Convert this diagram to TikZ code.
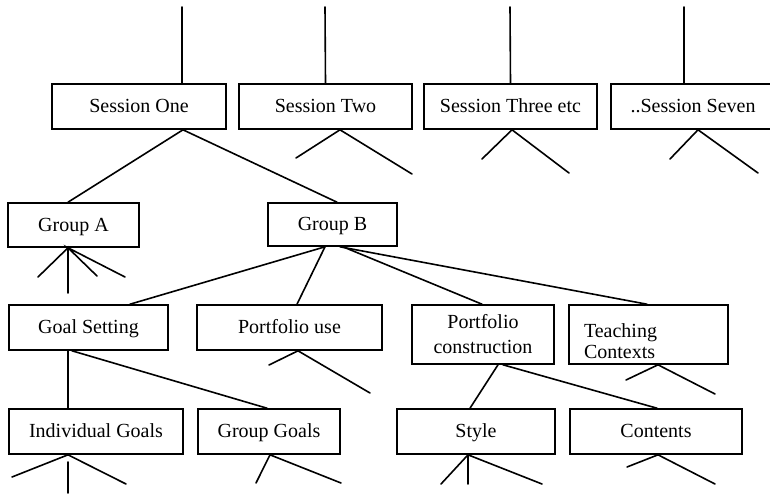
\documentclass[tikz,border=0pt]{standalone}
\usepackage{fontspec}
\setmainfont{Liberation Serif}
\usetikzlibrary{calc}
\begin{document}
\begin{tikzpicture}[x=1pt,y=-1pt,
  boxbase/.style={draw,line width=1.6pt,inner sep=0pt,minimum height=45pt,anchor=center},
  box/.style={boxbase,font=\fontsize{20}{22}\selectfont,text height=14pt,text depth=2pt},
  mbox/.style={boxbase,font=\fontsize{20}{25}\selectfont},
  conn/.style={line width=1.6pt,line cap=round}]
\useasboundingbox (0,0) rectangle (770,493);
% top row
\node[box,minimum width=174pt] (s1) at (139,106.5) {Session One};
\node[box,minimum width=173pt] (s2) at (325.5,106.5) {Session Two};
\node[box,minimum width=173pt] (s3) at (510.5,106.5) {Session Three etc};
\node[box,minimum width=164pt] (s7) at (693,106.5) {..Session Seven};
% groups
\node[box,minimum width=131pt,minimum height=44pt] (ga) at (73.5,225) {Group A};
\node[box,minimum width=129pt,minimum height=43pt] (gb) at (332.5,224.5) {Group B};
% third row
\node[box,minimum width=159pt] (gs) at (88.5,327.5) {Goal Setting};
\node[box,minimum width=185pt] (pu) at (289.5,327.5) {Portfolio use};
\node[mbox,minimum width=142pt,minimum height=59pt,align=center] (pc) at (483,334.5) {Portfolio\\construction};
\node[mbox,minimum width=159pt,minimum height=59pt,align=left,text width=129pt,inner xsep=15pt,font=\fontsize{20}{21}\selectfont] (tc) at (648.5,334.5) {\rule{0pt}{28pt}Teaching\\Contexts};
% fourth row
\node[box,minimum width=174pt] (ig) at (96,431.5) {Individual Goals};
\node[box,minimum width=142pt] (gg) at (269,431.5) {Group Goals};
\node[box,minimum width=158pt] (st) at (476,431.5) {Style};
\node[box,minimum width=172pt] (ct) at (656,431.5) {Contents};
% free ends
\coordinate (t1) at (182,7);
\coordinate (t2) at (325,7);
\coordinate (t3) at (510,7);
\coordinate (t7) at (684,7);
\coordinate (s2l) at (296,158);
\coordinate (s2r) at (412,174);
\coordinate (s3l) at (482,159);
\coordinate (s3r) at (569,173);
\coordinate (s7l) at (670,159);
\coordinate (s7r) at (758,173);
\coordinate (ga1) at (38,277);
\coordinate (ga2) at (68,293);
\coordinate (ga3) at (97,276);
\coordinate (ga4) at (125,277);
\coordinate (pul) at (269,365);
\coordinate (pur) at (370,393);
\coordinate (igl) at (12,477);
\coordinate (igr) at (126,484);
\coordinate (igv1) at (68,462);
\coordinate (igv2) at (68,493);
\coordinate (ggl) at (256,483);
\coordinate (ggr) at (341,483);
\coordinate (tcl) at (626,380);
\coordinate (tcr) at (715,394);
\coordinate (stl) at (441,484);
\coordinate (stm) at (468,484);
\coordinate (str) at (542,484);
\coordinate (ctl) at (627,467);
\coordinate (ctr) at (715,484);
% top lines
\draw[conn] (t1) -- ([xshift=43pt]s1.north);
\draw[conn] (t2) -- (s2.north);
\draw[conn] (t3) -- (s3.north);
\draw[conn] (t7) -- ([xshift=-9pt]s7.north);
% session one
\draw[conn] ([xshift=44pt]s1.south) -- ([xshift=-5.5pt]ga.north);
\draw[conn] ([xshift=44pt]s1.south) -- ([xshift=4.5pt]gb.north);
% other sessions legs
\draw[conn] (s2l) -- ([xshift=14.5pt]s2.south) -- (s2r);
\draw[conn] (s3l) -- ([xshift=1.5pt]s3.south) -- (s3r);
\draw[conn] (s7l) -- ([xshift=5pt]s7.south) -- (s7r);
% group A legs
\draw[conn] (ga1) -- ([xshift=-5.5pt]ga.south) -- (ga2);
\draw[conn] (ga3) -- ([xshift=-5.5pt]ga.south) -- (ga4);
% group B
\draw[conn] ([xshift=-7.5pt]gb.south) -- ([xshift=41.5pt]gs.north);
\draw[conn] ([xshift=-7.5pt]gb.south) -- ([xshift=7.5pt]pu.north);
\draw[conn] ([xshift=10.5pt]gb.south) -- ([xshift=-1pt]pc.north);
\draw[conn] ([xshift=7.5pt]gb.south) -- ([xshift=-1.5pt]tc.north);
% portfolio use legs
\draw[conn] (pul) -- ([xshift=8.5pt]pu.south) -- (pur);
% goal setting
\draw[conn] ([xshift=-20.5pt]gs.south) -- ([xshift=-28pt]ig.north);
\draw[conn] ([xshift=-16.5pt]gs.south) -- ([xshift=-2pt]gg.north);
% portfolio construction
\draw[conn] ([xshift=15pt]pc.south) -- ([xshift=-6pt]st.north);
\draw[conn] ([xshift=20pt]pc.south) -- ([xshift=1pt]ct.north);
% teaching contexts legs
\draw[conn] (tcl) -- ([xshift=9.5pt]tc.south) -- (tcr);
% bottom legs
\draw[conn] (igl) -- ([xshift=-28pt]ig.south) -- (igr);
\draw[conn] (igv1) -- (igv2);
\draw[conn] (ggl) -- ([xshift=1pt]gg.south) -- (ggr);
\draw[conn] (stl) -- ([xshift=-8pt]st.south) -- (str);
\draw[conn] ([xshift=-8pt]st.south) -- (stm);
\draw[conn] (ctl) -- ([xshift=2pt]ct.south) -- (ctr);
\end{tikzpicture}
\end{document}
